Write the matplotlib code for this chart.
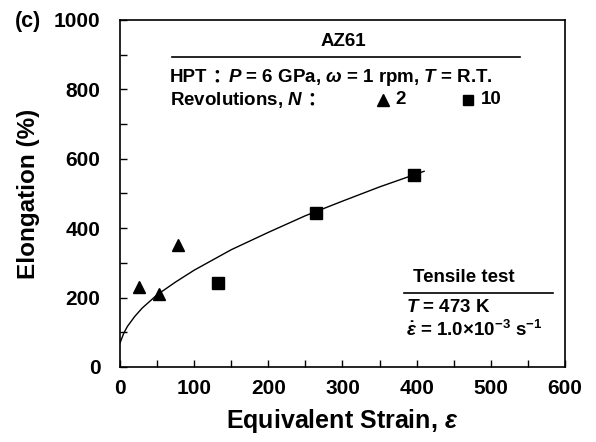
import numpy as np
import matplotlib
matplotlib.use('Agg')
import matplotlib.pyplot as plt

# data
n2_strain = [26, 52, 78]
n2_elong = [230, 210, 351]
n10_strain = [132, 264, 396]
n10_elong = [242, 443, 552]
# fitted curve
fit_strain = [0, 5, 10, 20, 30, 50, 75, 100, 150, 200, 250, 300, 350, 410]
fit_elong = [69, 97, 117, 146, 170, 208, 245, 279, 338, 388, 436, 478, 519, 564]

plt.rcParams['font.family'] = ['Liberation Sans', 'DejaVu Sans']
plt.rcParams['font.weight'] = 'bold'
plt.rcParams['mathtext.fontset'] = 'custom'
plt.rcParams['mathtext.rm'] = 'Liberation Sans:bold'
plt.rcParams['mathtext.it'] = 'Liberation Sans:italic:bold'
plt.rcParams['mathtext.bf'] = 'Liberation Sans:bold'

fig = plt.figure(figsize=(5.96, 4.42), dpi=100)
ax = fig.add_axes([120/596, 1-367/442, 445/596, 347/442])

ax.plot(fit_strain, fit_elong, color='black', lw=1.0)
ax.plot(n2_strain, n2_elong, '^', color='black', ms=9, ls='none')
ax.plot(n10_strain, n10_elong, 's', color='black', ms=8.5, ls='none')

ax.set_xlim(0, 600)
ax.set_ylim(0, 1000)
ax.set_xticks(np.arange(0, 601, 100))
ax.set_xticks(np.arange(0, 601, 50), minor=True)
ax.set_yticks(np.arange(0, 1001, 200))
ax.set_yticks(np.arange(0, 1001, 100), minor=True)
ax.tick_params(which='both', direction='in', length=5, width=1, labelsize=15)
ax.tick_params(axis='x', pad=9)
ax.tick_params(axis='y', pad=14)
for s in ax.spines.values():
    s.set_linewidth(1.2)
for lab in ax.get_xticklabels() + ax.get_yticklabels():
    lab.set_fontweight('bold')

ax.set_xlabel(r'Equivalent Strain, $\varepsilon$', fontsize=18, fontweight='bold', labelpad=6)
ax.set_ylabel('Elongation (%)', fontsize=17.5, fontweight='bold', labelpad=10)
fig.text(15/596, 1-21/442, '(c)', fontsize=15.5, fontweight='bold', va='center')

# legend / condition block
def px(x, y, s, **kw):
    fig.text(x/596, 1-y/442, s, va='center', fontsize=13.5, fontweight='bold', **kw)

px(343, 41, 'AZ61', ha='center')
fig.add_artist(plt.Line2D([172/596, 520/596], [1-57/442, 1-57/442], color='black', lw=1.2))
px(170, 77, 'HPT')
px(207, 77, '：', family=['Noto Sans CJK JP'])
px(228, 77, r'$P$ = 6 GPa, $\omega$ = 1 rpm, $T$ = R.T.')
px(170, 100, r'Revolutions, $N$')
px(302, 100, '：', family=['Noto Sans CJK JP'])
fig.add_artist(plt.Line2D([383/596], [1-100/442], marker='^', color='black', ms=8))
px(395, 100, '2')
fig.add_artist(plt.Line2D([468/596], [1-100/442], marker='s', color='black', ms=7.5))
px(481, 100, '10')

px(464, 277, 'Tensile test', ha='center')
fig.add_artist(plt.Line2D([404/596, 553/596], [1-293/442, 1-293/442], color='black', lw=1.2))
px(406, 307, r'$T$ = 473 K')
px(406, 330, r'$\dot{\varepsilon}$ = 1.0$\times$10$^{-3}$ s$^{-1}$')

fig.savefig('out.png', dpi=100)
